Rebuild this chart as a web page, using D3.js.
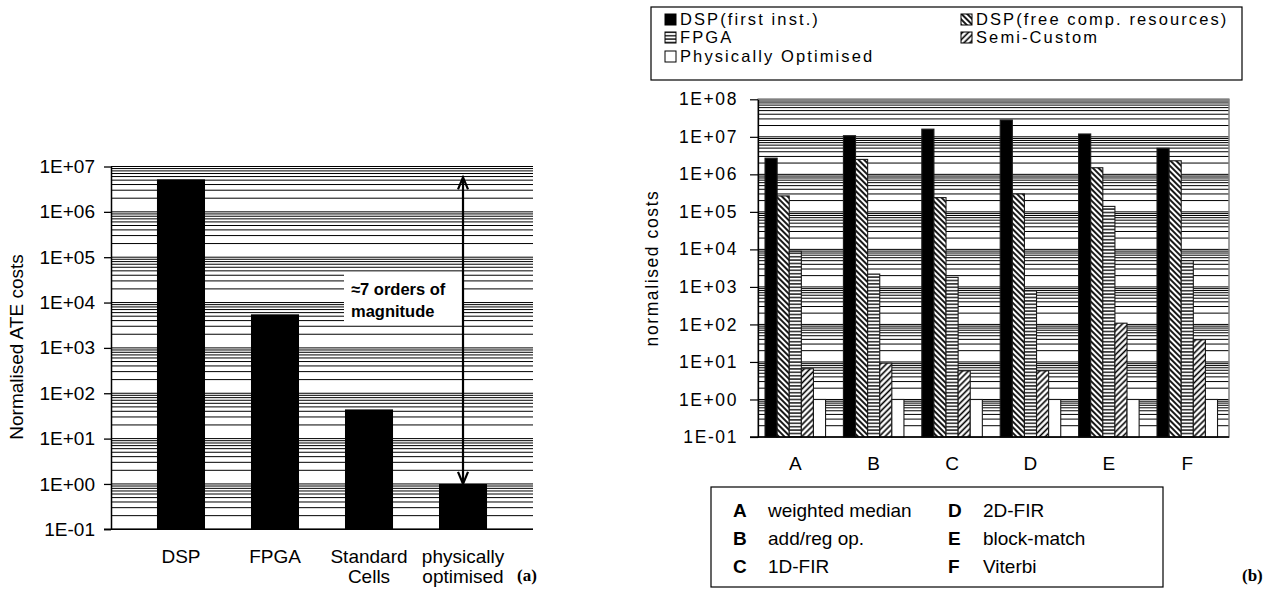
<!DOCTYPE html>
<html><head><meta charset="utf-8">
<script src="https://cdn.jsdelivr.net/npm/d3@7"></script>
<style>
body{margin:0;background:#fff}
svg{display:block}
text{font-family:Arial,"Liberation Sans",sans-serif;fill:#000}
</style>
</head><body>
<svg id="c" width="1278" height="594"></svg>
<script>
// ---------- data: chart (a) ----------
const leftCategories = ["DSP", "FPGA", "Standard Cells", "physically optimised"];
const leftLabelLines = [["DSP"], ["FPGA"], ["Standard", "Cells"], ["physically", "optimised"]];
const leftValues = [5.2e6, 5500, 44, 1];
const leftTickValues = [1e-1, 1e0, 1e1, 1e2, 1e3, 1e4, 1e5, 1e6, 1e7];
const leftTickLabels = ["1E-01", "1E+00", "1E+01", "1E+02", "1E+03", "1E+04", "1E+05", "1E+06", "1E+07"];
const annotationLines = ["\u22487 orders of", "magnitude"];

// ---------- data: chart (b) ----------
const benchmarks = ["A", "B", "C", "D", "E", "F"];
const seriesNames = ["DSP(first inst.)", "DSP(free comp. resources)", "FPGA", "Semi-Custom", "Physically Optimised"];
const dspFirst = [2.7e6, 1.07e7, 1.6e7, 2.8e7, 1.19e7, 4.95e6];
const dspFree = [2.66e5, 2.5e6, 2.4e5, 3.0e5, 1.5e6, 2.3e6];
const fpga = [8.9e3, 2.2e3, 1.8e3, 800, 1.4e5, 5.0e3];
const semiCustom = [6.6, 9.3, 5.8, 5.8, 108, 39];
const physOpt = [1, 1, 1, 1, 1, 1];
const rightTickValues = [1e-1, 1e0, 1e1, 1e2, 1e3, 1e4, 1e5, 1e6, 1e7, 1e8];
const rightTickLabels = ["1E-01", "1E+00", "1E+01", "1E+02", "1E+03", "1E+04", "1E+05", "1E+06", "1E+07", "1E+08"];
const benchmarkNames = ["weighted median", "add/reg op.", "1D-FIR", "2D-FIR", "block-match", "Viterbi"];

const svg = d3.select("#c");

// ---------- patterns ----------
const defs = svg.append("defs");
function hatch(id, w, h, rot, lineAttrs) {
  const p = defs.append("pattern").attr("id", id).attr("patternUnits", "userSpaceOnUse")
    .attr("width", w).attr("height", h);
  if (rot) p.attr("patternTransform", `rotate(${rot})`);
  p.append("rect").attr("width", w).attr("height", h).attr("fill", "#fff");
  const l = p.append("line");
  Object.entries(lineAttrs).forEach(([k, v]) => l.attr(k, v));
}
hatch("pFree", 4, 4, -45, {x1: 2, y1: 0, x2: 2, y2: 4, stroke: "#000", "stroke-width": 1.8});
hatch("pFpga", 4, 3.4, 0, {x1: 0, y1: 1.7, x2: 4, y2: 1.7, stroke: "#000", "stroke-width": 1.3});
hatch("pSemi", 4.2, 4.2, 45, {x1: 2.1, y1: 0, x2: 2.1, y2: 4.2, stroke: "#000", "stroke-width": 1.6});
const seriesFill = ["#000", "url(#pFree)", "url(#pFpga)", "url(#pSemi)", "#fff"];

function gridValues(minExp, maxExp) {
  const g = [];
  for (let e = minExp; e < maxExp; e++) for (let m = 1; m <= 9; m++) g.push(m * Math.pow(10, e));
  g.push(Math.pow(10, maxExp));
  return g;
}

// ================= chart (a) =================
const L = {left: 111, right: 533, top: 166.5, bottom: 529.3};
const yL = d3.scaleLog().domain([0.1, 1e7]).range([L.bottom, L.top]);
const xL = d3.scaleBand().domain(leftCategories).range([L.left, L.right]).padding(0.489);
const gA = svg.append("g");

gA.append("g").selectAll("line").data(gridValues(-1, 7)).join("line")
  .attr("x1", L.left).attr("x2", L.right)
  .attr("y1", d => yL(d)).attr("y2", d => yL(d))
  .attr("stroke", "#000").attr("stroke-width", 1);

// annotation box (covers grid)
gA.append("rect").attr("x", 344).attr("y", 274).attr("width", 118).attr("height", 48).attr("fill", "#fff");
gA.append("text").attr("x", 351).attr("y", 295).attr("font-size", 16.5).attr("font-weight", "bold").text(annotationLines[0]);
gA.append("text").attr("x", 351).attr("y", 317).attr("font-size", 16.5).attr("font-weight", "bold").text(annotationLines[1]);

gA.append("g").selectAll("rect").data(leftValues).join("rect")
  .attr("x", (d, i) => xL(leftCategories[i])).attr("width", xL.bandwidth())
  .attr("y", d => yL(d)).attr("height", d => yL(0.1) - yL(d))
  .attr("fill", "#000");

const axL = gA.append("g").attr("transform", `translate(${L.left},0)`)
  .call(d3.axisLeft(yL).tickValues(leftTickValues).tickFormat((d, i) => leftTickLabels[i]).tickSize(7).tickSizeOuter(0).tickPadding(9));
axL.select(".domain").attr("stroke", "#000").attr("stroke-width", 1.5);
axL.selectAll(".tick line").attr("stroke", "#000").attr("stroke-width", 1.3);
axL.selectAll(".tick text").attr("font-size", 19).attr("font-family", "Arial, 'Liberation Sans', sans-serif").attr("fill", "#000");
gA.append("line").attr("x1", L.left - 7).attr("x2", L.right).attr("y1", L.bottom).attr("y2", L.bottom).attr("stroke", "#000").attr("stroke-width", 1.5);

// x labels
leftLabelLines.forEach((lines, i) => {
  const cx = xL(leftCategories[i]) + xL.bandwidth() / 2;
  lines.forEach((t, j) => gA.append("text").attr("x", cx).attr("y", 563 + j * 20)
    .attr("text-anchor", "middle").attr("font-size", 19).text(t));
});

gA.append("text").attr("transform", "translate(23,347) rotate(-90)").attr("text-anchor", "middle")
  .attr("font-size", 19).text("Normalised ATE costs");

// arrow
const ax = xL(leftCategories[3]) + xL.bandwidth() / 2;
const ay1 = yL(leftValues[0]) - 2, ay2 = yL(leftValues[3]);
gA.append("line").attr("x1", ax).attr("x2", ax).attr("y1", ay1 + 1).attr("y2", ay2 - 1).attr("stroke", "#000").attr("stroke-width", 2.2);
gA.append("path").attr("d", `M${ax - 5},${ay1 + 12} L${ax},${ay1} L${ax + 5},${ay1 + 12}`).attr("fill", "none").attr("stroke", "#000").attr("stroke-width", 2.2);
gA.append("path").attr("d", `M${ax - 5},${ay2 - 12} L${ax},${ay2} L${ax + 5},${ay2 - 12}`).attr("fill", "none").attr("stroke", "#000").attr("stroke-width", 2.2);

svg.append("text").attr("x", 517).attr("y", 581).attr("font-size", 17).attr("font-weight", "bold")
  .style("font-family", "'Liberation Serif','Times New Roman',serif").text("(a)");

// ================= chart (b) =================
const R = {left: 758, right: 1229, top: 99.3, bottom: 437};
const yR = d3.scaleLog().domain([0.1, 1e8]).range([R.bottom, R.top]);
const x0 = d3.scaleBand().domain(benchmarks).range([R.left, R.right]).paddingInner(0.228).paddingOuter(0.118).align(0.38);
const x1 = d3.scaleBand().domain(seriesNames).range([0, x0.bandwidth()]);
const seriesData = [dspFirst, dspFree, fpga, semiCustom, physOpt];
const gB = svg.append("g");

gB.append("g").selectAll("line").data(gridValues(-1, 8)).join("line")
  .attr("x1", R.left).attr("x2", R.right)
  .attr("y1", d => yR(d)).attr("y2", d => yR(d))
  .attr("stroke", "#000").attr("stroke-width", 1);
gB.append("rect").attr("x", R.left).attr("y", R.top).attr("width", R.right - R.left).attr("height", R.bottom - R.top)
  .attr("fill", "none").attr("stroke", "#808080").attr("stroke-width", 1.5);

seriesData.forEach((vals, s) => {
  gB.append("g").selectAll("rect").data(vals).join("rect")
    .attr("x", (d, i) => x0(benchmarks[i]) + x1(seriesNames[s]))
    .attr("width", x1.bandwidth())
    .attr("y", d => yR(d)).attr("height", d => yR(0.1) - yR(d))
    .attr("fill", seriesFill[s]).attr("stroke", "#1a1a1a").attr("stroke-width", 1.1);
});

const axR = gB.append("g").attr("transform", `translate(${R.left},0)`)
  .call(d3.axisLeft(yR).tickValues(rightTickValues).tickFormat((d, i) => rightTickLabels[i]).tickSize(8).tickSizeOuter(0).tickPadding(12));
axR.select(".domain").attr("stroke", "#000").attr("stroke-width", 1.3);
axR.selectAll(".tick line").attr("stroke", "#000").attr("stroke-width", 1.2);
axR.selectAll(".tick text").attr("font-size", 17.5).attr("letter-spacing", 1.6).attr("font-family", "Arial, 'Liberation Sans', sans-serif").attr("fill", "#000");
gB.append("line").attr("x1", R.left - 8).attr("x2", R.right).attr("y1", R.bottom).attr("y2", R.bottom).attr("stroke", "#000").attr("stroke-width", 1.3);

gB.append("g").selectAll("text").data(benchmarks).join("text")
  .attr("x", d => x0(d) + x0.bandwidth() / 2).attr("y", 470).attr("text-anchor", "middle")
  .attr("font-size", 19).text(d => d);

gB.append("text").attr("transform", "translate(658,268) rotate(-90)").attr("text-anchor", "middle")
  .attr("font-size", 17.5).attr("letter-spacing", 1.6).text("normalised costs");

// top legend
gB.append("rect").attr("x", 651).attr("y", 7).attr("width", 591).attr("height", 73).attr("fill", "#fff").attr("stroke", "#000").attr("stroke-width", 1.2);
const legendPos = [[665, 25], [961, 25], [665, 43], [961, 43], [665, 62]];
seriesNames.forEach((n, s) => {
  const [lx, ly] = legendPos[s];
  gB.append("rect").attr("x", lx).attr("y", ly - 11).attr("width", 11).attr("height", 11)
    .attr("fill", seriesFill[s]).attr("stroke", "#000").attr("stroke-width", 1);
  gB.append("text").attr("x", lx + 15).attr("y", ly).attr("font-size", 16.5).attr("letter-spacing", 2.1).text(n);
});

// bottom legend
gB.append("rect").attr("x", 711).attr("y", 487).attr("width", 452).attr("height", 100).attr("fill", "#fff").attr("stroke", "#000").attr("stroke-width", 1.2);
benchmarks.forEach((b, i) => {
  const col = Math.floor(i / 3), row = i % 3;
  const bx = col === 0 ? 733 : 948, by = 517 + row * 28;
  gB.append("text").attr("x", bx).attr("y", by).attr("font-size", 19).attr("font-weight", "bold").text(b);
  gB.append("text").attr("x", bx + 35).attr("y", by).attr("font-size", 19).text(benchmarkNames[i]);
});

svg.append("text").attr("x", 1242).attr("y", 581).attr("font-size", 17).attr("font-weight", "bold")
  .style("font-family", "'Liberation Serif','Times New Roman',serif").text("(b)");
</script>
</body></html>
